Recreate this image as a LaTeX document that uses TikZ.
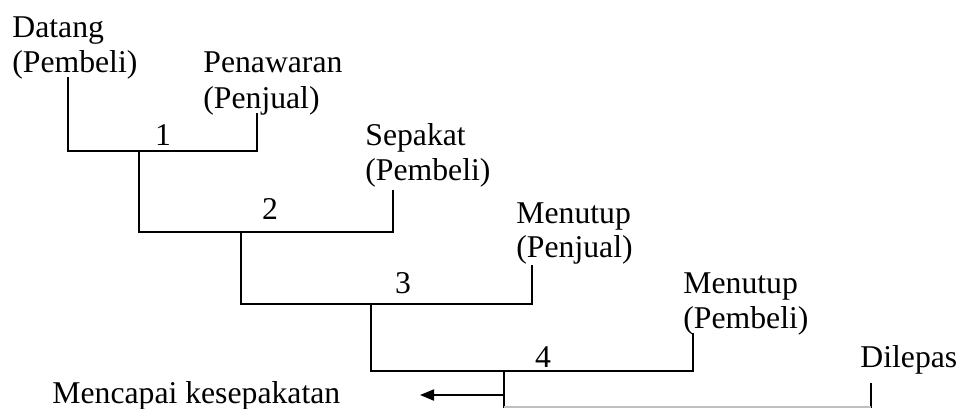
\documentclass[tikz,border=0pt]{standalone}
\usepackage{fontspec}
\setmainfont{Liberation Serif}
\usetikzlibrary{arrows.meta}
\begin{document}
\begin{tikzpicture}[x=0.5pt,y=-0.5pt,
  lbl/.style={anchor=base west, inner sep=0pt, font=\fontsize{15.85}{17.5}\selectfont},
  num/.style={anchor=base, inner sep=0pt, font=\fontsize{15.85}{17.5}\selectfont},
  wire/.style={line width=1pt, line join=miter},
  faint/.style={line width=1pt, draw=black!25},
]
\useasboundingbox (0,0) rectangle (961,408);

% labels of the stages
\node[lbl] (datang)  at (12,37)  {Datang};
\node[lbl] (datangP) at (12,72)  {(Pembeli)};
\node[lbl] (tawar)   at (203,72) {Penawaran};
\node[lbl] (tawarP)  at (203,108) {(Penjual)};
\node[lbl] (sepakat) at (365,145) {Sepakat};
\node[lbl] (sepakatP) at (365,180) {(Pembeli)};
\node[lbl] (tutupA)  at (516,223) {Menutup};
\node[lbl] (tutupAP) at (516,257) {(Penjual)};
\node[lbl] (tutupB)  at (683,293) {Menutup};
\node[lbl] (tutupBP) at (683,328) {(Pembeli)};
\node[lbl] (lepas)   at (860,367) {Dilepas};
\node[lbl] (capai)   at (52,403) {Mencapai kesepakatan};

% step numbers
\node[num] (n1) at (163,145) {1};
\node[num] (n2) at (270,219) {2};
\node[num] (n3) at (403,293) {3};
\node[num] (n4) at (543,367) {4};

% junction points
\coordinate (a0) at (68,77);
\coordinate (b0) at (257,113);
\coordinate (j1) at (139,151);
\coordinate (c0) at (393,190);
\coordinate (j2) at (241,232);
\coordinate (d0) at (532,265);
\coordinate (j3) at (371,304);
\coordinate (e0) at (693,333);
\coordinate (j4) at (504,371);
\coordinate (f0) at (871,383);
\coordinate (fb) at (871,408);
\coordinate (jb) at (504,408);
\coordinate (jg) at (504,407);
\coordinate (fg) at (871,407);
\coordinate (ar) at (504,395);
\coordinate (al) at (420,395);

% bracket 1
\draw[wire] (a0) |- (j1) -| (b0);
% bracket 2
\draw[wire] (j1) |- (j2) -| (c0);
% bracket 3
\draw[wire] (j2) |- (j3) -| (d0);
% bracket 4
\draw[wire] (j3) |- (j4) -| (e0);
\draw[wire] (j4) -- (jb);
% release branch
\draw[wire] (f0) -- (fb);
\draw[faint] (jg) -- (fg);
% agreement arrow
\draw[wire, -{Triangle[length=7pt,width=5.5pt]}] (ar) -- (al);
\end{tikzpicture}
\end{document}
